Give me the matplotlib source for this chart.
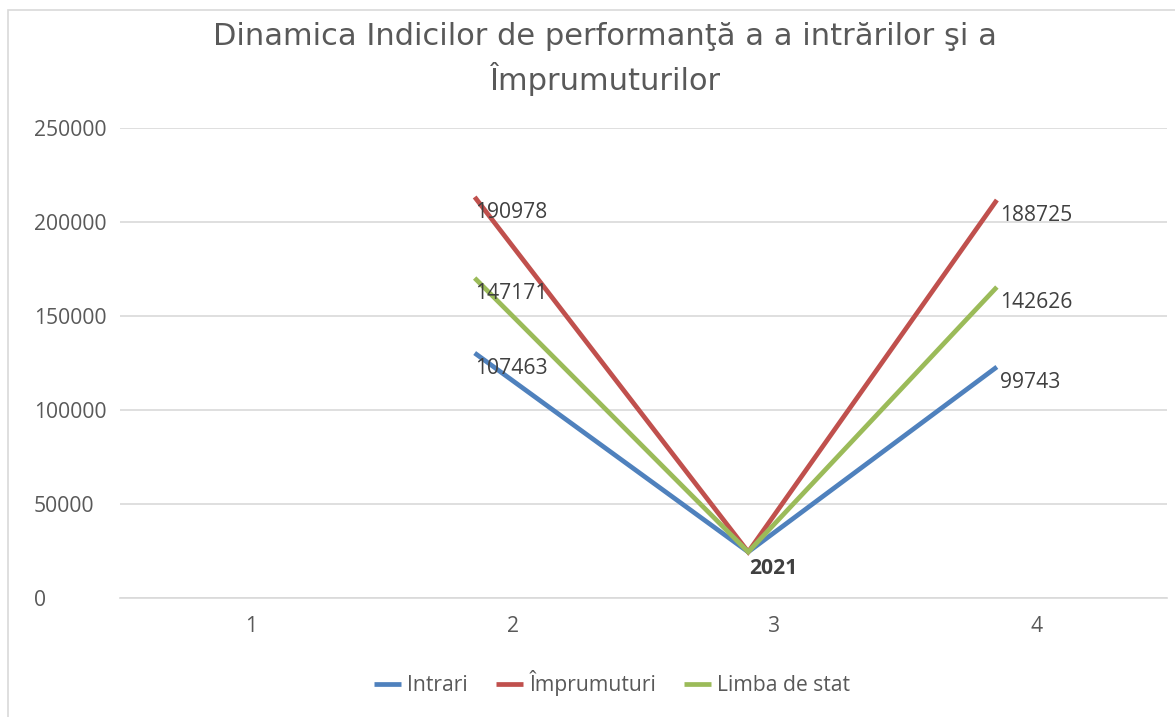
import matplotlib
matplotlib.use("Agg")
import matplotlib.pyplot as plt
from matplotlib.patches import Rectangle

# categories on the x axis and the series as they sit in the picture
categories = [1, 2, 3, 4]
point_x = [1.855, 2.9, 3.85]
intrari = [130300, 24500, 122900]
imprumuturi = [213300, 24500, 211700]
limba = [170200, 24500, 165400]

# data labels shown next to the points
intrari_labels = ["107463", "", "99743"]
imprumuturi_labels = ["190978", "", "188725"]
limba_labels = ["147171", "", "142626"]
middle_label = "2021"

yticks = [0, 50000, 100000, 150000, 200000, 250000]

W, H = 1175, 717
fig = plt.figure(figsize=(W / 100, H / 100), dpi=100)
fig.patch.set_facecolor("white")

# chart area border (Excel style)
fig.patches.append(Rectangle((8 / W, -0.1), 1.2, 1 - 10 / H + 0.1, transform=fig.transFigure,
                             fill=False, edgecolor="#d9d9d9", linewidth=1.2))

ax = fig.add_axes([120 / W, 1 - 598 / H, (1167 - 120) / W, (598 - 128) / H])
ax.set_xlim(0.5, 4.5)
ax.set_ylim(0, 250000)

font = ["Open Sans", "DejaVu Sans"]
fs = 15.2
tick_color = "#595959"

series = [
    ("Intrari", intrari, intrari_labels, "#4f81bd"),
    ("Împrumuturi", imprumuturi, imprumuturi_labels, "#c0504d"),
    ("Limba de stat", limba, limba_labels, "#9bbb59"),
]
for name, vals, labels, col in series:
    ax.plot(point_x, vals, color=col, linewidth=3.4, label=name, solid_capstyle="butt",
            solid_joinstyle="miter")
    for i, (xv, yv, lab) in enumerate(zip(point_x, vals, labels)):
        if not lab:
            continue
        dx = 0 if i == 0 else 2
        ax.annotate(lab, (xv, yv), xytext=(dx, -11), textcoords="offset points",
                    ha="left", va="center", fontsize=fs, color="#404040", family=font)

ax.annotate(middle_label, (point_x[1], intrari[1]), xytext=(18, -12), textcoords="offset points",
            ha="center", va="center", fontsize=fs, color="#404040", fontweight="bold", family=font)

ax.set_xticks(categories)
ax.set_xticklabels([str(c) for c in categories], family=font, fontsize=fs, color=tick_color)
ax.set_yticks(yticks)
ax.set_yticklabels([str(v) for v in yticks], family=font, fontsize=fs, color=tick_color, ha="left")
ax.tick_params(axis="y", length=0, pad=62)
ax.tick_params(axis="x", length=0, pad=13)
ax.grid(axis="y", color="#d9d9d9", linewidth=1.2)
ax.set_axisbelow(True)
for s in ax.spines.values():
    s.set_visible(False)
ax.spines["bottom"].set_visible(True)
ax.spines["bottom"].set_color("#d9d9d9")
ax.spines["bottom"].set_linewidth(1.2)

fig.text(605 / W, 1 - 59 / H, "Dinamica Indicilor de performanţă a a intrărilor şi a\nÎmprumuturilor",
         ha="center", va="center", fontsize=22, color=tick_color, linespacing=1.4,
         family=["DejaVu Sans"])

leg = fig.legend(loc="center", bbox_to_anchor=(612 / W, 1 - 683 / H), ncol=3, frameon=False,
                 prop={"family": font, "size": fs}, handlelength=1.3, handletextpad=0.3,
                 columnspacing=1.3)
for t in leg.get_texts():
    t.set_color(tick_color)

fig.savefig("out.png", dpi=100)
